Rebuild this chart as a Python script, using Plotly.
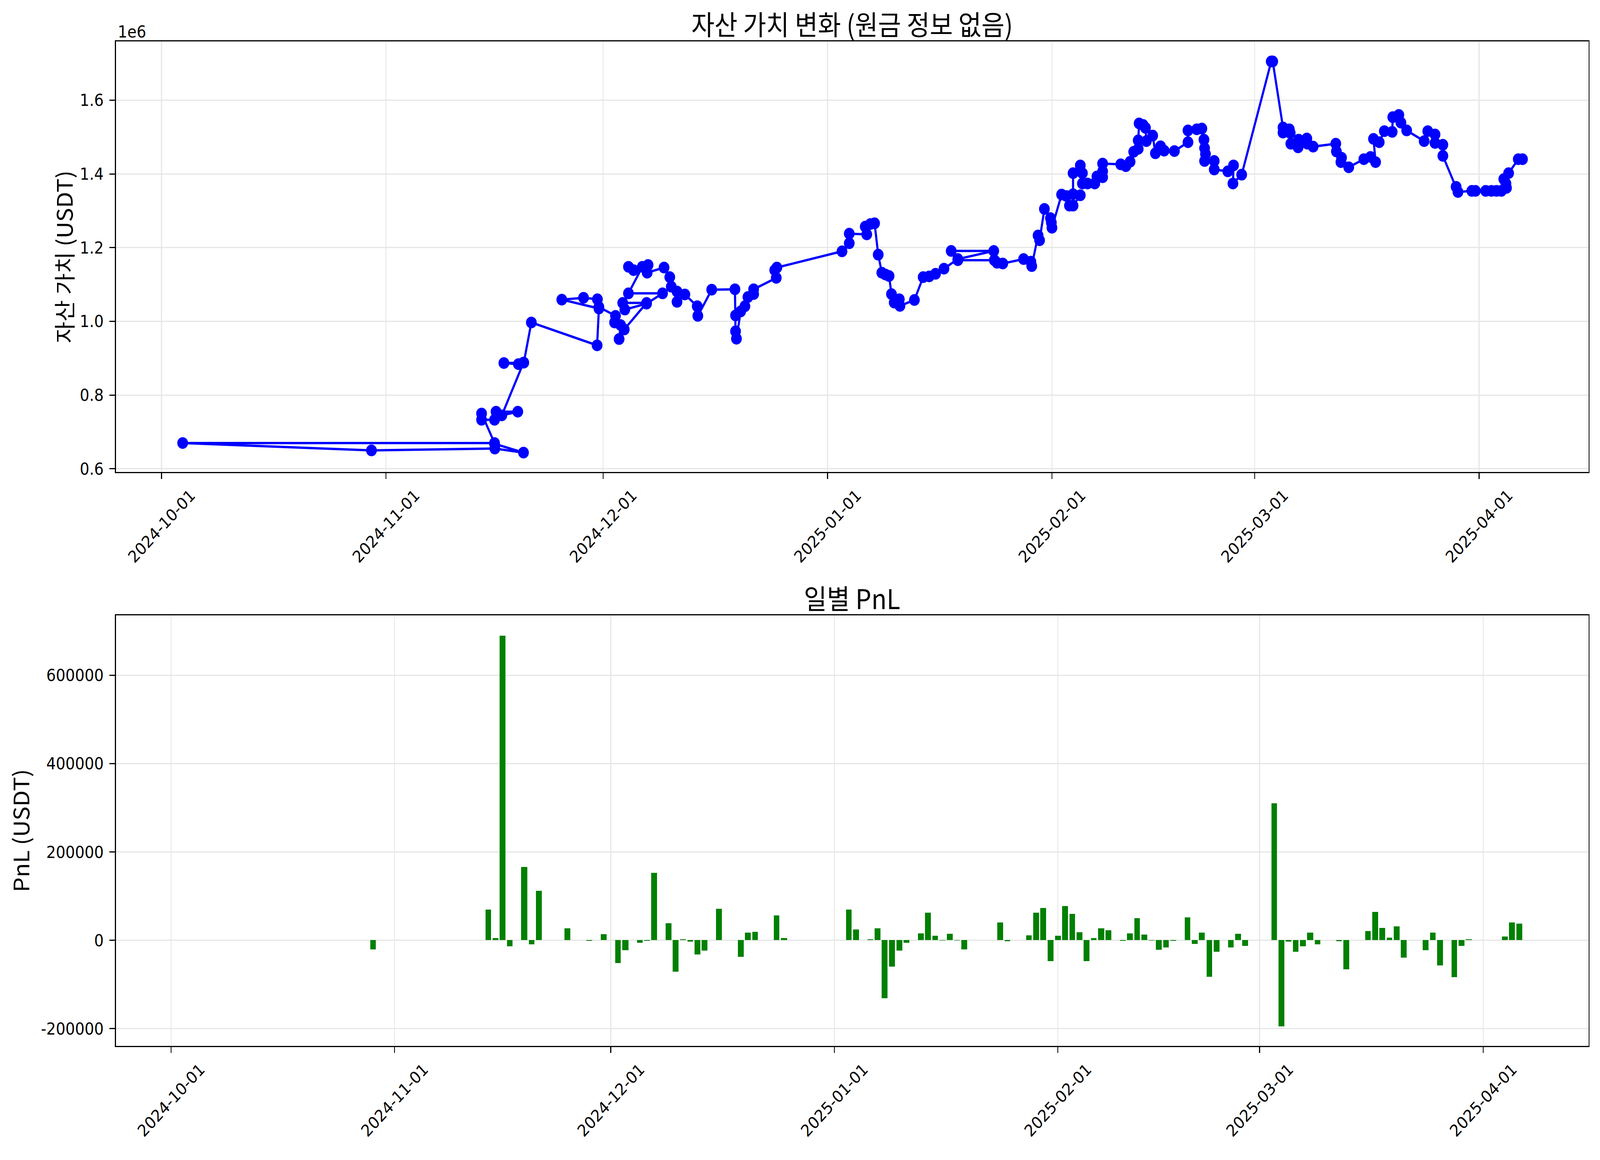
import plotly.graph_objects as go

# asset value snapshots, in the order they were logged (not sorted)
asset_times = [
    "2024-11-16 00:00", "2024-11-20 00:00", "2024-11-16 01:00", "2024-10-30 00:00", "2024-10-03 22:00",
    "2024-11-16 00:00", "2024-11-14 05:00", "2024-11-14 05:00", "2024-11-16 00:00", "2024-11-16 05:00",
    "2024-11-19 05:00", "2024-11-17 00:00", "2024-11-20 00:00", "2024-11-17 07:00", "2024-11-19 07:00",
    "2024-11-20 01:00", "2024-11-21 02:00", "2024-11-30 04:00", "2024-11-30 10:00", "2024-11-25 07:00",
    "2024-11-28 07:00", "2024-11-30 05:00", "2024-11-30 10:00", "2024-12-02 17:00", "2024-12-02 14:00",
    "2024-12-03 10:00", "2024-12-03 05:00", "2024-12-03 22:00", "2024-12-07 00:00", "2024-12-03 17:00",
    "2024-12-04 00:00", "2024-12-07 00:00", "2024-12-09 05:00", "2024-12-04 12:00", "2024-12-06 10:00",
    "2024-12-04 12:00", "2024-12-05 05:00", "2024-12-07 05:00", "2024-12-07 02:00", "2024-12-09 10:00",
    "2024-12-10 05:00", "2024-12-10 10:00", "2024-12-11 05:00", "2024-12-11 05:00", "2024-12-12 07:00",
    "2024-12-14 00:00", "2024-12-14 02:00", "2024-12-16 00:00", "2024-12-19 05:00", "2024-12-19 07:00",
    "2024-12-19 07:00", "2024-12-19 10:00", "2024-12-20 00:00", "2024-12-20 14:00", "2024-12-21 00:00",
    "2024-12-21 19:00", "2024-12-21 19:00", "2024-12-24 22:00", "2024-12-24 17:00", "2024-12-25 00:00",
    "2025-01-03 00:00", "2025-01-04 00:00", "2025-01-04 00:00", "2025-01-06 10:00", "2025-01-06 05:00",
    "2025-01-06 22:00", "2025-01-07 12:00", "2025-01-08 00:00", "2025-01-08 12:00", "2025-01-09 00:00",
    "2025-01-09 12:00", "2025-01-09 20:00", "2025-01-10 05:00", "2025-01-10 22:00", "2025-01-11 00:00",
    "2025-01-13 00:00", "2025-01-14 05:00", "2025-01-15 01:00", "2025-01-15 22:00", "2025-01-17 02:00",
    "2025-01-19 00:00", "2025-01-23 23:00", "2025-01-18 02:00", "2025-01-19 00:00", "2025-01-24 01:00",
    "2025-01-24 10:00", "2025-01-25 05:00", "2025-01-28 02:00", "2025-01-29 02:00", "2025-01-29 05:00",
    "2025-01-30 02:00", "2025-01-30 07:00", "2025-01-30 23:00", "2025-01-31 19:00", "2025-01-31 22:00",
    "2025-02-01 00:00", "2025-02-02 08:00", "2025-02-03 00:00", "2025-02-03 10:00", "2025-02-03 22:00",
    "2025-02-04 22:00", "2025-02-03 22:00", "2025-02-03 22:00", "2025-02-04 22:00", "2025-02-05 05:00",
    "2025-02-05 05:00", "2025-02-05 22:00", "2025-02-06 22:00", "2025-02-07 05:00", "2025-02-08 00:00",
    "2025-02-08 00:00", "2025-02-08 00:00", "2025-02-10 12:00", "2025-02-11 05:00", "2025-02-11 19:00",
    "2025-02-12 07:00", "2025-02-12 22:00", "2025-02-12 22:00", "2025-02-13 01:00", "2025-02-13 14:00",
    "2025-02-13 22:00", "2025-02-14 01:00", "2025-02-14 22:00", "2025-02-15 07:00", "2025-02-16 00:00",
    "2025-02-16 12:00", "2025-02-17 22:00", "2025-02-19 19:00", "2025-02-19 19:00", "2025-02-21 00:00",
    "2025-02-21 17:00", "2025-02-22 00:00", "2025-02-22 02:00", "2025-02-22 05:00", "2025-02-22 02:00",
    "2025-02-23 10:00", "2025-02-23 10:00", "2025-02-25 07:00", "2025-02-26 02:00", "2025-02-26 00:00",
    "2025-02-27 05:00", "2025-03-03 07:00", "2025-03-03 12:00", "2025-03-04 22:00", "2025-03-04 22:00",
    "2025-03-05 19:00", "2025-03-05 22:00", "2025-03-06 00:00", "2025-03-07 00:00", "2025-03-07 02:00",
    "2025-03-08 05:00", "2025-03-08 07:00", "2025-03-09 02:00", "2025-03-12 05:00", "2025-03-12 07:00",
    "2025-03-13 00:00", "2025-03-12 22:00", "2025-03-14 00:00", "2025-03-16 02:00", "2025-03-17 00:00",
    "2025-03-17 17:00", "2025-03-17 10:00", "2025-03-18 05:00", "2025-03-18 22:00", "2025-03-20 00:00",
    "2025-03-20 02:00", "2025-03-20 22:00", "2025-03-21 05:00", "2025-03-22 00:00", "2025-03-24 10:00",
    "2025-03-24 22:00", "2025-03-25 22:00", "2025-03-25 22:00", "2025-03-27 00:00", "2025-03-27 00:00",
    "2025-03-28 20:00", "2025-03-29 02:00", "2025-03-31 00:00", "2025-03-31 12:00", "2025-04-01 22:00",
    "2025-04-02 17:00", "2025-04-03 10:00", "2025-04-04 02:00", "2025-04-04 19:00", "2025-04-04 17:00",
    "2025-04-04 10:00", "2025-04-05 02:00", "2025-04-06 10:00", "2025-04-07 00:00",
]
asset_values = [
    668000, 644000, 655000, 650000, 670000,
    670000, 750000, 733000, 733000, 755000,
    755000, 745000, 888000, 887000, 884000,
    888000, 997000, 935000, 1035000, 1059000,
    1064000, 1060000, 1039000, 1015000, 997000,
    990000, 952000, 978000, 1050000, 1050000,
    1032000, 1048000, 1076000, 1076000, 1148000,
    1148000, 1139000, 1153000, 1132000, 1146000,
    1120000, 1094000, 1081000, 1053000, 1073000,
    1041000, 1015000, 1086000, 1087000, 1016000,
    973000, 953000, 1027000, 1041000, 1066000,
    1074000, 1087000, 1118000, 1139000, 1146000,
    1190000, 1212000, 1238000, 1236000, 1257000,
    1264000, 1266000, 1181000, 1132000, 1127000,
    1123000, 1074000, 1051000, 1060000, 1042000,
    1058000, 1120000, 1122000, 1129000, 1143000,
    1169000, 1191000, 1191000, 1166000, 1166000,
    1159000, 1157000, 1169000, 1162000, 1150000,
    1233000, 1220000, 1305000, 1280000, 1268000,
    1254000, 1344000, 1340000, 1314000, 1314000,
    1342000, 1345000, 1402000, 1423000, 1402000,
    1374000, 1374000, 1374000, 1393000, 1391000,
    1407000, 1428000, 1426000, 1421000, 1433000,
    1460000, 1468000, 1491000, 1537000, 1533000,
    1525000, 1489000, 1504000, 1456000, 1475000,
    1463000, 1462000, 1486000, 1518000, 1521000,
    1523000, 1493000, 1470000, 1454000, 1435000,
    1435000, 1412000, 1407000, 1423000, 1374000,
    1398000, 1705000, 1705000, 1526000, 1512000,
    1521000, 1511000, 1482000, 1472000, 1493000,
    1496000, 1482000, 1474000, 1482000, 1461000,
    1444000, 1432000, 1418000, 1440000, 1446000,
    1432000, 1495000, 1486000, 1516000, 1514000,
    1554000, 1560000, 1539000, 1518000, 1489000,
    1516000, 1507000, 1484000, 1479000, 1449000,
    1365000, 1351000, 1354000, 1354000, 1354000,
    1354000, 1354000, 1354000, 1362000, 1374000,
    1386000, 1402000, 1440000, 1440000,
]

# daily PnL
pnl_dates = [
    "2024-10-04", "2024-10-29", "2024-11-14", "2024-11-15", "2024-11-16", "2024-11-17", "2024-11-19",
    "2024-11-20", "2024-11-21", "2024-11-25", "2024-11-28", "2024-11-30", "2024-12-02", "2024-12-03",
    "2024-12-05", "2024-12-06", "2024-12-07", "2024-12-09", "2024-12-10", "2024-12-11", "2024-12-12",
    "2024-12-13", "2024-12-14", "2024-12-16", "2024-12-19", "2024-12-20", "2024-12-21", "2024-12-24",
    "2024-12-25", "2025-01-03", "2025-01-04", "2025-01-06", "2025-01-07", "2025-01-08", "2025-01-09",
    "2025-01-10", "2025-01-11", "2025-01-13", "2025-01-14", "2025-01-15", "2025-01-16", "2025-01-17",
    "2025-01-18", "2025-01-19", "2025-01-24", "2025-01-25", "2025-01-28", "2025-01-29", "2025-01-30",
    "2025-01-31", "2025-02-01", "2025-02-02", "2025-02-03", "2025-02-04", "2025-02-05", "2025-02-06",
    "2025-02-07", "2025-02-08", "2025-02-10", "2025-02-11", "2025-02-12", "2025-02-13", "2025-02-14",
    "2025-02-15", "2025-02-16", "2025-02-17", "2025-02-19", "2025-02-20", "2025-02-21", "2025-02-22",
    "2025-02-23", "2025-02-25", "2025-02-26", "2025-02-27", "2025-03-03", "2025-03-04", "2025-03-05",
    "2025-03-06", "2025-03-07", "2025-03-08", "2025-03-09", "2025-03-12", "2025-03-13", "2025-03-16",
    "2025-03-17", "2025-03-18", "2025-03-19", "2025-03-20", "2025-03-21", "2025-03-24", "2025-03-25",
    "2025-03-26", "2025-03-28", "2025-03-29", "2025-03-30", "2025-04-04", "2025-04-05", "2025-04-06",
]
pnl_values = [
    0, -21000, 69000, 4500, 690000, -13500, 166000,
    -9000, 112000, 26500, -1000, 14000, -52000, -22600,
    -5800, -800, 152900, 38700, -71000, 2600, -3200,
    -32000, -23900, 71000, -37400, 17400, 18700, 56100,
    4500, 69000, 24500, 2600, 26500, -131600, -59400,
    -23900, -5800, 15500, 62600, 9700, -500, 14200,
    -500, -20600, 40000, -2000, 11000, 62600, 72900,
    -47100, 9700, 77400, 59400, 18100, -47700, 4500,
    27100, 22600, -1500, 15500, 49700, 12900, -300,
    -21300, -16800, -700, 51600, -8400, 16800, -83200,
    -25800, -16100, 14200, -12900, 309700, -194800, -3200,
    -26500, -13500, 17400, -9000, -2000, -66400, 20600,
    63900, 27700, 5800, 31000, -39400, -22600, 16800,
    -56800, -83900, -12900, 2600, 8400, 40000, 37400,
]

x_tick_dates = ["2024-10-01", "2024-11-01", "2024-12-01", "2025-01-01",
                "2025-02-01", "2025-03-01", "2025-04-01"]
x_tick_labels = x_tick_dates
asset_tick_vals = [600000, 800000, 1000000, 1200000, 1400000, 1600000]
asset_tick_labels = ["0.6", "0.8", "1.0", "1.2", "1.4", "1.6"]
pnl_tick_vals = [-200000, 0, 200000, 400000, 600000]
pnl_tick_labels = ["-200000", "0", "200000", "400000", "600000"]

W, H = 4469, 2969
TICK_FONT = dict(family="DejaVu Sans, Noto Sans CJK KR", size=42, color="black")
KO_FONT = "Noto Sans CJK KR, DejaVu Sans"
GRID = "#e6e6e6"

fig = go.Figure()
fig.add_trace(go.Scatter(
    x=asset_times, y=asset_values, mode="lines+markers",
    line=dict(color="#0000ff", width=6), marker=dict(color="#0000ff", size=30),
    xaxis="x", yaxis="y", showlegend=False,
))
fig.add_trace(go.Bar(
    x=pnl_dates, y=pnl_values, marker=dict(color="#008000", line=dict(width=0)),
    width=0.8 * 86400000, xaxis="x2", yaxis="y2", showlegend=False,
))

x_dom = [324 / W, 4437 / W]
common_x = dict(
    tickvals=x_tick_dates, ticktext=x_tick_labels, tickangle=-45, tickfont=TICK_FONT,
    ticks="outside", ticklen=15, tickwidth=3, tickcolor="black",
    showline=True, mirror=True, linecolor="black", linewidth=3,
    showgrid=True, gridcolor=GRID, gridwidth=3, zeroline=False,
    ticklabelshift=82, ticklabelstandoff=0,
)
common_y = dict(
    tickfont=TICK_FONT, ticks="outside", ticklen=15, tickwidth=3, tickcolor="black",
    showline=True, mirror=True, linecolor="black", linewidth=3,
    showgrid=True, gridcolor=GRID, gridwidth=3, zeroline=False, ticklabelstandoff=8,
)


def label(text, x, y, size, angle=0):
    return dict(text=text, x=x / W, y=1 - y / H, xref="paper", yref="paper",
                xanchor="center", yanchor="middle", textangle=angle, showarrow=False,
                font=dict(family=KO_FONT, size=size, color="black"))


fig.update_layout(
    width=W, height=H, margin=dict(l=0, r=0, t=0, b=0),
    paper_bgcolor="white", plot_bgcolor="white", bargap=0,
    xaxis=dict(domain=x_dom, anchor="y", type="date",
               range=["2024-09-24 17:00", "2025-04-16 03:00"], **common_x),
    yaxis=dict(domain=[1 - 1215 / H, 1 - 107 / H], anchor="x",
               range=[591000, 1759000], tickvals=asset_tick_vals, ticktext=asset_tick_labels, **common_y),
    xaxis2=dict(domain=x_dom, anchor="y2", type="date",
                range=["2024-09-23 08:40", "2025-04-15 14:40"], **common_x),
    yaxis2=dict(domain=[1 - 2692 / H, 1 - 1584 / H], anchor="x2",
                range=[-239400, 735600], tickvals=pnl_tick_vals, ticktext=pnl_tick_labels, **common_y),
    annotations=[
        label("자산 가치 변화 (원금 정보 없음)", 2380, 60, 70),
        label("일별 PnL", 2380, 1537, 70),
        label("자산 가치 (USDT)", 176, 661, 60, -90),
        label("PnL (USDT)", 55, 2138, 60, -90),
        dict(text="1e6", x=327 / W, y=1 - 82 / H, xref="paper", yref="paper",
             xanchor="left", yanchor="middle", showarrow=False, font=TICK_FONT),
    ],
)

# the browser window can come out narrower than the figure; fit the figure into it
fit = """
var gd = document.getElementById('{plot_id}');
document.body.style.margin = '0';
document.body.style.overflow = 'hidden';
var sx = document.documentElement.clientWidth / 4469;
var sy = document.documentElement.clientHeight / 2969;
gd.style.transformOrigin = '0 0';
gd.style.transform = 'scale(' + sx + ',' + sy + ')';
"""
fig.write_html("out.html", post_script=fit, config={"displayModeBar": False})
